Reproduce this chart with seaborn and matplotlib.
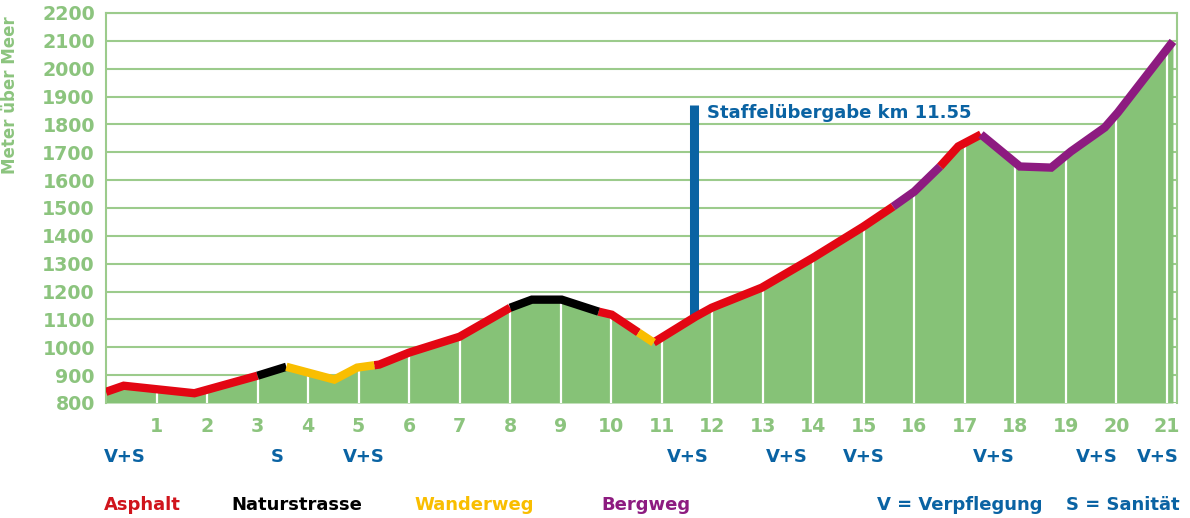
import numpy as np
import pandas as pd
import matplotlib
matplotlib.use("Agg")
import matplotlib.pyplot as plt
import seaborn as sns
from matplotlib.transforms import blended_transform_factory

# ---------------- data ----------------
dist_km = [0.0, 0.35, 1.75, 3.0, 3.57, 4.52, 4.97, 5.41, 6.0, 7.0, 8.0, 8.43,
           9.02, 9.75, 10.01, 10.54, 10.84, 11.67, 11.99, 12.98, 14.0, 14.99,
           15.58, 16.0, 16.51, 16.87, 17.32, 18.09, 18.71, 19.1, 19.77, 20.03, 21.12]
elev_m = [840, 862, 835, 898, 930, 884, 927, 938, 981, 1038, 1142, 1171,
          1171, 1128, 1117, 1053, 1017, 1110, 1142, 1214, 1322, 1433,
          1505, 1559, 1649, 1721, 1764, 1649, 1645, 1703, 1789, 1843, 2098]

surface_breaks_km = [0.0, 3.0, 3.57, 5.31, 8.0, 9.75, 10.54, 10.84, 15.58, 16.51, 17.32, 21.12]
surface_types = ["Asphalt", "Naturstrasse", "Wanderweg", "Asphalt", "Naturstrasse",
                 "Asphalt", "Wanderweg", "Asphalt", "Bergweg", "Asphalt", "Bergweg"]

x_ticks_km = list(range(1, 22))
y_ticks_m = list(range(800, 2201, 100))

service_km = [0.37, 3.39, 5.1, 11.51, 13.47, 15.0, 17.58, 19.62, 20.82]
service_labels = ["V+S", "S", "V+S", "V+S", "V+S", "V+S", "V+S", "V+S", "V+S"]

relay_km = 11.63
relay_top_m = 1870
relay_label = "Staffelübergabe km 11.55"

legend_surfaces = ["Asphalt", "Naturstrasse", "Wanderweg", "Bergweg"]
legend_notes = ["V = Verpflegung", "S = Sanität"]

# ---------------- styles ----------------
surface_colors = {"Asphalt": "#E30613", "Naturstrasse": "#000000",
                  "Wanderweg": "#F9BE00", "Bergweg": "#8D1B80"}
legend_colors = {"Asphalt": "#D0141C", "Naturstrasse": "#000000",
                 "Wanderweg": "#F9BE00", "Bergweg": "#8D1B80"}
fill_green = "#86C277"
grid_green = "#9CCB8C"
label_green = "#8CC47E"
blue = "#0A63A3"

sns.set_theme(style="white")
plt.rcParams["font.family"] = ["DejaVu Sans"]

W, H = 1190, 518
fig = plt.figure(figsize=(W / 100, H / 100), dpi=100)
ax = fig.add_axes([106 / W, 1 - 403 / H, (1177 - 106) / W, (403 - 13) / H])

# fill under profile
ax.fill_between(dist_km, 800, elev_m, color=fill_green, lw=0, zorder=1)

# white km lines inside fill
tick_top = np.interp(x_ticks_km, dist_km, elev_m) - 6
ax.vlines(x_ticks_km, 800, tick_top, color="white", lw=1.6, zorder=2)

# relay marker
relay_bottom = np.interp(relay_km, dist_km, elev_m)
ax.vlines(relay_km, relay_bottom, relay_top_m, color=blue, lw=6.5, zorder=3)
ax.text(relay_km + 0.27, 1842, relay_label, color=blue, fontsize=13,
        fontweight="bold", va="center", ha="left", zorder=5)

# surface-coloured profile line
rows = []
for i, surf in enumerate(surface_types):
    a, b = surface_breaks_km[i], surface_breaks_km[i + 1]
    xs = [a] + [d for d in dist_km if a < d < b] + [b]
    ys = np.interp(xs, dist_km, elev_m)
    for x, y in zip(xs, ys):
        rows.append({"km": x, "elev": y, "surface": surf, "seg": i})
df = pd.DataFrame(rows)
sns.lineplot(data=df, x="km", y="elev", hue="surface", units="seg",
             estimator=None, sort=False, palette=surface_colors, lw=6,
             legend=False, ax=ax, zorder=4, solid_capstyle="butt",
             solid_joinstyle="miter")

# axes
ax.set_xlim(0, 21.2)
ax.set_ylim(800, 2200)
ax.set_yticks(y_ticks_m)
ax.set_xticks(x_ticks_km)
ax.set_xticklabels([str(k) for k in x_ticks_km])
ax.set_xlabel("")
ax.set_ylabel("")
ax.grid(axis="y", color=grid_green, lw=1.5, zorder=0)
ax.set_axisbelow(True)
for s in ["left", "top", "right"]:
    ax.spines[s].set_color(grid_green)
    ax.spines[s].set_linewidth(1.5)
ax.spines["bottom"].set_visible(False)
ax.tick_params(axis="both", length=0, labelcolor=label_green, labelsize=13.7)
ax.tick_params(axis="y", pad=8)
ax.tick_params(axis="x", pad=10)
for lab in ax.get_xticklabels() + ax.get_yticklabels():
    lab.set_fontweight("bold")

fig.text(10 / W, 1 - 95 / H, "Meter über Meer", rotation=90, color=label_green,
         fontsize=12, fontweight="bold", ha="center", va="center")

# service labels
trans = blended_transform_factory(ax.transData, fig.transFigure)
for k, lab in zip(service_km, service_labels):
    ax.text(k, 1 - 457 / H, lab, transform=trans, color=blue, fontsize=13,
            fontweight="bold", ha="center", va="center")

# legend row
legend_x = [104, 231, 414, 601]
for x, name in zip(legend_x, legend_surfaces):
    fig.text(x / W, 1 - 505 / H, name, color=legend_colors[name],
             fontsize=13, fontweight="bold", ha="left", va="center")
notes_x = [877, 1066]
for x, note in zip(notes_x, legend_notes):
    fig.text(x / W, 1 - 505 / H, note, color=blue, fontsize=13,
             fontweight="bold", ha="left", va="center")

fig.savefig("out.png", dpi=100, facecolor="white")
